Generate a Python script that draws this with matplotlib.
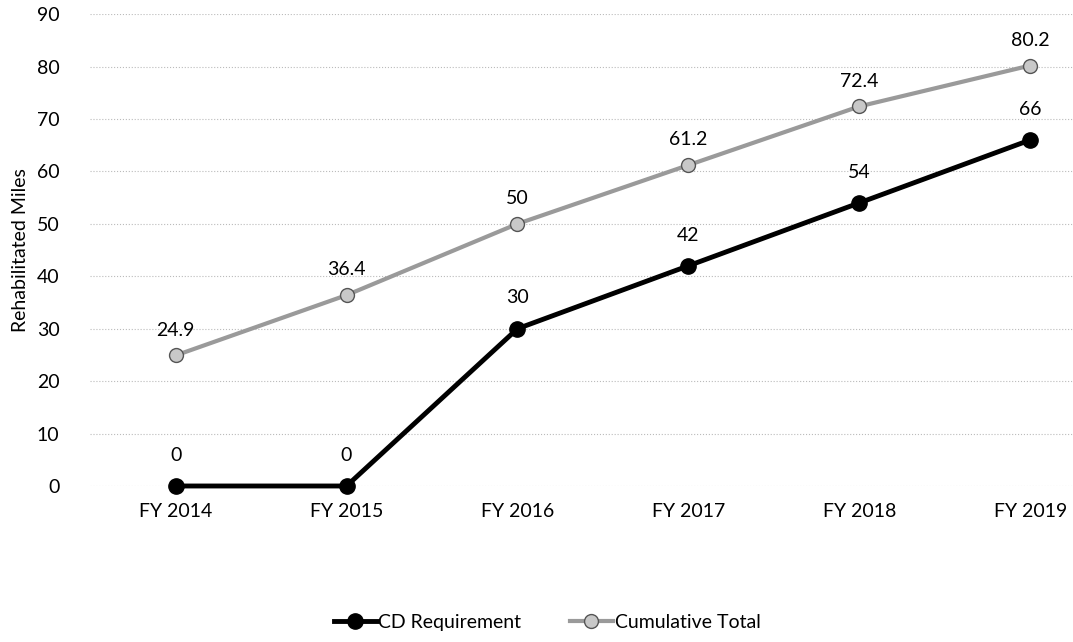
import matplotlib
matplotlib.use('Agg')
import matplotlib.pyplot as plt

plt.rcParams['font.family'] = ['Lato', 'DejaVu Sans']

years = ['FY 2014', 'FY 2015', 'FY 2016', 'FY 2017', 'FY 2018', 'FY 2019']
cd_req = [0, 0, 30, 42, 54, 66]
cumulative = [24.9, 36.4, 50, 61.2, 72.4, 80.2]
yticks = list(range(0, 91, 10))

fig = plt.figure(figsize=(10.73, 6.42), dpi=100)
ax = fig.add_axes([0.084, 0.243, 0.916, 0.735])

x = list(range(len(years)))
l1, = ax.plot(x, cd_req, color='black', lw=3.5, marker='o', ms=11, label='CD Requirement',
              zorder=3, clip_on=False)
l2, = ax.plot(x, cumulative, color='#9a9a9a', lw=3, marker='o', ms=10,
              markerfacecolor='#c8c8c8', markeredgecolor='#555555', markeredgewidth=1,
              label='Cumulative Total', zorder=3, clip_on=False)

for xi, v in zip(x, cd_req):
    ax.annotate(f'{v:g}', (xi, v), xytext=(0, 16), textcoords='offset points',
                ha='center', va='bottom', fontsize=14)
for xi, v in zip(x, cumulative):
    ax.annotate(f'{v:g}', (xi, v), xytext=(0, 12), textcoords='offset points',
                ha='center', va='bottom', fontsize=14)

ax.set_xlim(-0.5, 5.25)
ax.set_ylim(0, 90)
ax.set_yticks(yticks)
ax.set_xticks(x)
ax.set_xticklabels(years)
ax.tick_params(axis='both', length=0, labelsize=14)
ax.tick_params(axis='y', pad=22)
ax.tick_params(axis='x', pad=12)
ax.set_ylabel('Rehabilitated Miles', fontsize=14)
ax.yaxis.set_label_coords(-0.062, 0.5)
ax.grid(axis='y', color='#bbbbbb', linestyle=':', lw=0.8)
for s in ax.spines.values():
    s.set_visible(False)

fig.legend(handles=[l1, l2], loc='center', bbox_to_anchor=(0.51, 0.03), ncol=2,
           frameon=False, fontsize=14, handlelength=2.2, columnspacing=2.5, handletextpad=0.1)

fig.savefig('out.png', dpi=100)
